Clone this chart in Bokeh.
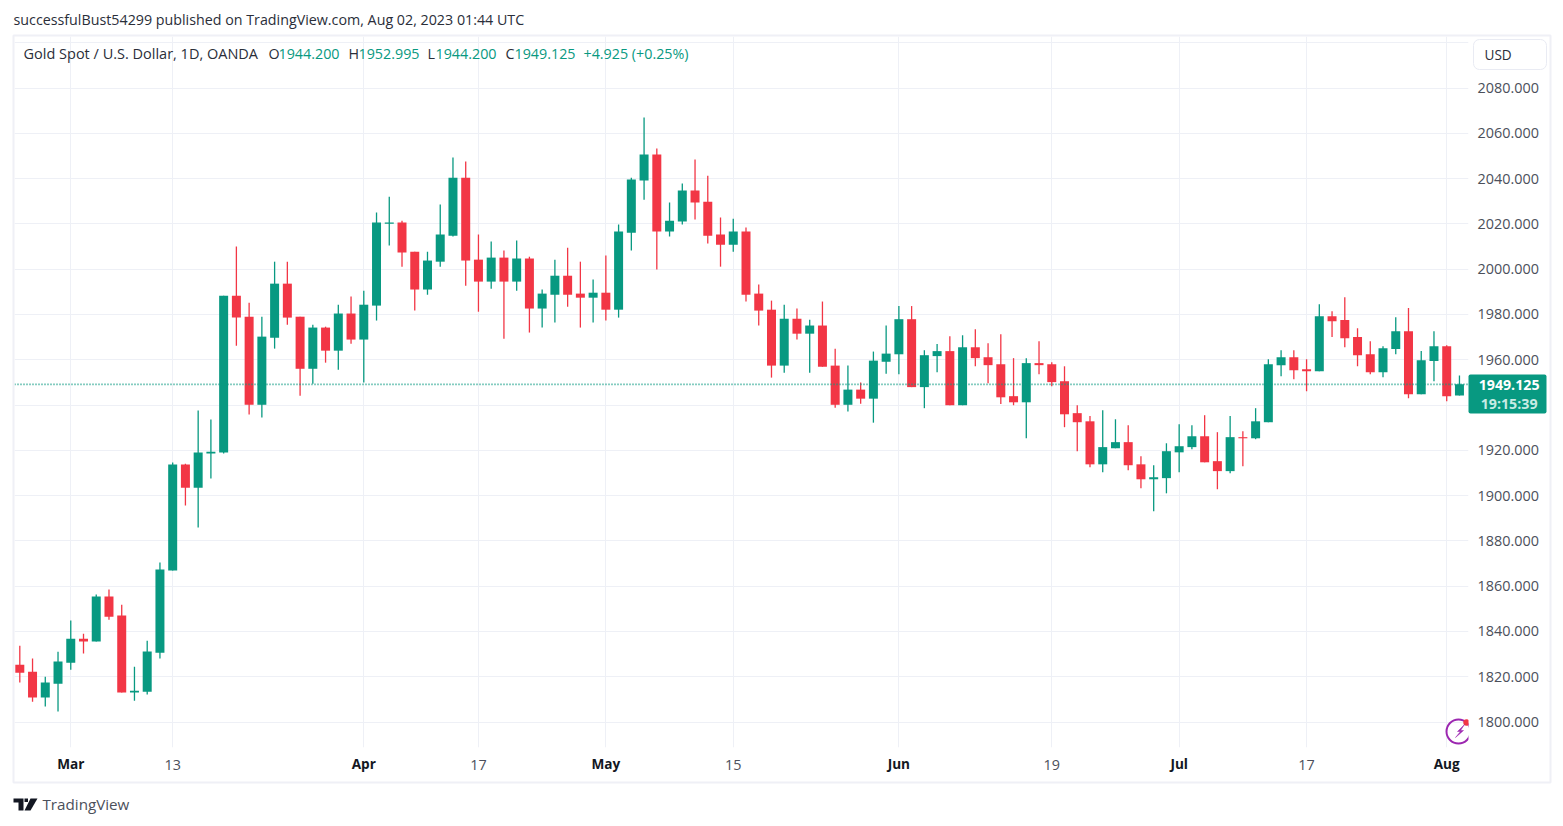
from bokeh.plotting import figure
from bokeh.embed import file_html
from bokeh.resources import INLINE
from bokeh.core.properties import value
from bokeh.models import (ColumnDataSource, FixedTicker, LinearAxis, Range1d, Span, Grid, Quad,
                          NumeralTickFormatter)

opens = [1825.3,1822.2,1810.8,1816.9,1826.2,1836.8,1835.5,1855.4,1847.0,1813.0,1813.4,1830.6,1866.9,1913.7,1903.5,1918.6,1919.0,1988.3,1979.0,1940.1,
         1969.7,1993.6,1979.0,1956.0,1974.2,1964.0,1980.4,1968.9,1983.9,2020.1,2020.6,2007.7,1991.0,2003.3,2014.8,2040.4,2004.2,1994.5,2005.1,1994.5,
         2004.7,1982.6,1988.7,1997.1,1989.2,1987.4,1989.6,1982.1,2016.1,2039.1,2050.6,2016.6,2021.0,2034.7,2029.8,2015.3,2010.8,2016.6,1989.2,1982.1,
         1957.4,1978.1,1971.5,1975.1,1957.4,1940.1,1946.8,1942.8,1959.1,1962.4,1977.9,1947.9,1961.6,1963.8,1939.9,1965.5,1961.1,1958.0,1943.9,1941.2,
         1958.5,1958.0,1950.5,1936.4,1932.8,1913.8,1920.9,1923.6,1913.8,1907.2,1907.7,1919.1,1921.4,1926.2,1915.2,1910.8,1925.8,1925.3,1932.4,1957.6,
         1961.1,1955.8,1954.9,1979.2,1977.5,1970.0,1962.4,1954.5,1964.7,1972.6,1944.8,1959.4,1966.0,1944.2]
highs = [1833.7,1828.0,1820.0,1831.0,1844.8,1839.0,1856.3,1858.5,1851.8,1824.4,1835.9,1870.4,1914.6,1914.1,1937.6,1933.6,1988.3,2010.0,1985.2,1979.0,
         2003.3,2003.3,1979.0,1975.5,1974.6,1984.3,1987.9,1990.5,2025.0,2032.0,2021.4,2007.7,2007.7,2028.5,2049.3,2047.5,2015.3,2012.2,2008.2,2012.6,
         2005.5,1991.0,2004.2,2009.5,2003.3,1995.4,2006.0,2019.7,2040.4,2067.0,2053.3,2029.4,2037.8,2048.4,2041.3,2022.8,2022.3,2018.4,1993.2,1986.1,
         1984.3,1982.6,1977.7,1985.7,1964.9,1957.4,1949.9,1963.6,1975.1,1983.7,1983.7,1964.2,1966.9,1970.4,1970.8,1973.5,1967.3,1971.3,1960.7,1960.7,
         1968.2,1958.9,1957.1,1939.9,1935.1,1937.7,1933.7,1931.1,1917.4,1913.4,1923.1,1931.5,1931.1,1935.5,1928.0,1935.1,1928.4,1938.6,1960.2,1964.2,
         1964.2,1960.2,1984.5,1981.4,1987.6,1973.9,1968.2,1966.0,1978.8,1982.8,1963.8,1972.6,1966.4,1952.995]
lows = [1817.4,1809.0,1806.8,1804.6,1823.1,1830.2,1835.5,1845.2,1813.0,1809.4,1812.1,1828.0,1866.9,1895.6,1885.9,1907.5,1918.6,1966.2,1935.8,1934.5,
        1964.9,1975.5,1944.1,1949.4,1958.7,1955.6,1967.1,1949.9,1977.3,2010.4,2001.1,1981.7,1988.7,2001.1,2014.4,1992.7,1981.2,1991.4,1969.3,1990.5,
        1972.0,1974.2,1976.4,1983.4,1974.2,1976.4,1977.3,1978.6,2008.2,2030.7,1999.8,2014.4,2019.7,2021.9,2011.3,2001.1,2007.7,1985.7,1975.1,1952.1,
        1954.3,1968.9,1954.3,1956.9,1938.8,1937.1,1940.6,1932.2,1953.8,1953.6,1947.9,1938.6,1954.5,1939.9,1939.9,1957.1,1949.6,1940.4,1939.9,1925.3,
        1953.6,1948.3,1930.2,1919.6,1912.5,1910.3,1920.9,1911.2,1903.2,1893.1,1901.0,1910.3,1920.5,1914.7,1902.8,1909.9,1913.0,1924.9,1932.4,1952.7,
        1951.4,1946.1,1954.9,1970.0,1965.5,1957.1,1953.6,1952.3,1962.4,1943.0,1944.8,1950.5,1941.7,1944.2]
closes = [1821.8,1810.8,1817.4,1826.7,1836.8,1835.5,1855.4,1846.5,1813.0,1813.8,1831.1,1867.3,1913.7,1903.5,1919.0,1919.4,1988.3,1978.6,1940.1,1970.2,
          1993.6,1978.6,1956.0,1974.2,1964.0,1980.4,1968.9,1984.3,2020.6,2020.6,2007.3,1991.0,2003.8,2015.3,2040.4,2003.8,1994.5,2005.1,1994.5,2004.7,
          1982.6,1989.2,1997.1,1988.7,1987.4,1989.6,1982.1,2016.6,2039.6,2050.6,2016.6,2021.4,2034.7,2029.4,2014.8,2010.8,2016.6,1988.7,1981.7,1957.4,
          1978.1,1971.5,1975.1,1956.9,1940.1,1946.8,1942.8,1959.6,1962.7,1977.9,1947.9,1962.0,1963.8,1939.9,1965.5,1960.7,1957.6,1943.4,1941.2,1958.5,
          1957.6,1950.1,1935.9,1932.4,1913.8,1921.4,1923.6,1913.4,1907.2,1908.1,1919.6,1921.8,1926.2,1914.7,1910.8,1925.8,1925.3,1932.8,1958.0,1961.1,
          1955.4,1954.9,1979.2,1977.0,1969.5,1962.0,1954.5,1965.1,1972.6,1944.8,1959.8,1966.0,1943.9,1949.125]
bar_index = list(range(len(closes)))

regular_ticks = {12: "13", 36: "17", 56: "15", 81: "19", 101: "17"}
month_ticks = {4: "Mar", 27: "Apr", 46: "May", 69: "Jun", 91: "Jul", 112: "Aug"}
price_ticks = [1800, 1820, 1840, 1860, 1880, 1900, 1920, 1960, 1980, 2000, 2020, 2040, 2060, 2080]
price_grid = sorted(price_ticks + [1940, 2100])
last_price = 1949.125

UP, DOWN = "#089981", "#f23645"
GRID, BORDER = "#eef0f6", "#eff0f6"
TEXT, AXIS_TEXT = "#2a2e39", "#4c505b"
FONT = "Open Sans"

p = figure(width=1552, height=815, output_backend="svg", toolbar_location=None,
           x_range=Range1d(-0.416, 113.71), y_range=Range1d(1788.74, 2102.75),
           extra_x_ranges={"px": Range1d(14, 1468)}, extra_y_ranges={"px": Range1d(747, 36)},
           x_axis_type=None, y_axis_type=None,
           min_border_left=14, min_border_right=84, min_border_top=36, min_border_bottom=68,
           outline_line_color=None, background_fill_color="white", border_fill_color="white")

yaxis = LinearAxis(ticker=FixedTicker(ticks=price_ticks),
                   formatter=NumeralTickFormatter(format="0.000"),
                   axis_line_color=None, major_tick_line_color=None, minor_tick_line_color=None,
                   major_label_text_font=FONT, major_label_text_font_size="14.4px",
                   major_label_text_color=AXIS_TEXT, major_label_standoff=3)
p.add_layout(yaxis, "right")

xaxis = LinearAxis(ticker=FixedTicker(ticks=list(regular_ticks)),
                   major_label_overrides=regular_ticks,
                   axis_line_color=None, major_tick_line_color=None, minor_tick_line_color=None,
                   major_label_text_font=FONT, major_label_text_font_size="14.4px",
                   major_label_text_color=AXIS_TEXT, major_label_standoff=6)
p.add_layout(xaxis, "below")
maxis = LinearAxis(ticker=FixedTicker(ticks=list(month_ticks)),
                   major_label_overrides=month_ticks,
                   axis_line_color=None, major_tick_line_color=None, minor_tick_line_color=None,
                   major_label_text_font=FONT, major_label_text_font_size="13.6px",
                   major_label_text_font_style="bold",
                   major_label_text_color="#131722", major_label_standoff=-25)
p.add_layout(maxis, "below")

p.add_layout(Grid(dimension=0, axis=xaxis, ticker=FixedTicker(ticks=sorted(list(regular_ticks) + list(month_ticks))),
                  grid_line_color=GRID, grid_line_width=1, level="underlay"))
p.add_layout(Grid(dimension=1, axis=yaxis, ticker=FixedTicker(ticks=price_grid),
                  grid_line_color=GRID, grid_line_width=1, level="underlay"))

colors = [UP if c >= o else DOWN for o, c in zip(opens, closes)]
src = ColumnDataSource(dict(x=bar_index, o=opens, h=highs, l=lows, c=closes, color=colors,
                            top=[max(a, b) for a, b in zip(opens, closes)],
                            bottom=[min(a, b) for a, b in zip(opens, closes)]))
p.segment("x", "h", "x", "l", color="color", line_width=1.3, source=src)
p.vbar("x", 0.706, "bottom", "top", fill_color="color", line_color=None, source=src)

p.add_layout(Span(location=last_price, dimension="width", line_color=UP, line_width=1.6, line_dash="1 2"))

PX = dict(x_range_name="px", y_range_name="px")

# purple badge, clipped by the pane
p.circle(x=[1458], y=[731], radius=12, radius_units="screen", fill_color=None,
         line_color="#9c27b0", line_width=2, **PX)
p.circle(x=[1466], y=[722], radius=3.2, radius_units="screen", fill_color=DOWN, line_color=None, **PX)
p.patch(x=[1464, 1457, 1460, 1455, 1463, 1460], y=[724, 731, 731, 737, 730, 730],
        fill_color="#9c27b0", line_color="#9c27b0", line_width=0.5, **PX)

def box(l, r, t, b, fill=None, line=None, lw=1, radius=0):
    kw = {"border_radius": radius} if radius and "border_radius" in Quad.properties() else {}
    p.quad(left=[l], right=[r], top=[t], bottom=[b], fill_color=fill, line_color=line, line_width=lw,
           level="overlay", **PX, **kw)

def text(s, x, y, size="14.3px", color=TEXT, style="normal", align="left"):
    p.text(x=[x], y=[y], text=[s], text_font=value(FONT), text_font_size=value(size), text_color=color,
           text_font_style=style, text_align=align, text_baseline="middle", level="overlay", **PX)

# pane border
box(13, 1550, 35, 782, line=BORDER, lw=2)

# USD button
box(1473, 1546, 39, 69, fill="white", line="#e9ebf3", lw=1, radius=6)
text("USD", 1484, 54, size="13.6px")

# last price tag
box(1468, 1546, 374, 413, fill=UP, radius=2)
text("1949.125", 1539, 384, size="14.2px", color="#ffffff", style="bold", align="right")
text("19:15:39", 1537, 402.5, size="14.2px", color="#c8ebe4", style="bold", align="right")

# headers
text("successfulBust54299 published on TradingView.com, Aug 02, 2023 01:44 UTC", 13, 19, size="14.28px")
text("Gold Spot / U.S. Dollar, 1D, OANDA", 23, 53.4, size="14.5px")
for lab, xl, val, xv in [("O", 268, "1944.200", 278), ("H", 348, "1952.995", 358),
                         ("L", 427, "1944.200", 435), ("C", 505, "1949.125", 514)]:
    text(lab, xl, 53.4)
    text(val, xv, 53.4, color=UP)
text("+4.925 (+0.25%)", 583, 53.4, color=UP)

# logo and footer
p.patch(x=[13, 23, 23, 18, 18, 13], y=[798, 798, 810, 810, 802, 802], fill_color="#131722", line_color=None, level="overlay", **PX)
p.patch(x=[30, 37, 30, 24], y=[798, 798, 810, 810], fill_color="#131722", line_color=None, level="overlay", **PX)
box(24, 27.5, 798, 801.5, fill="#131722")
text("TradingView", 42, 803.8, size="15.2px", color=AXIS_TEXT)

open("out.html", "w").write(file_html(p, INLINE))
